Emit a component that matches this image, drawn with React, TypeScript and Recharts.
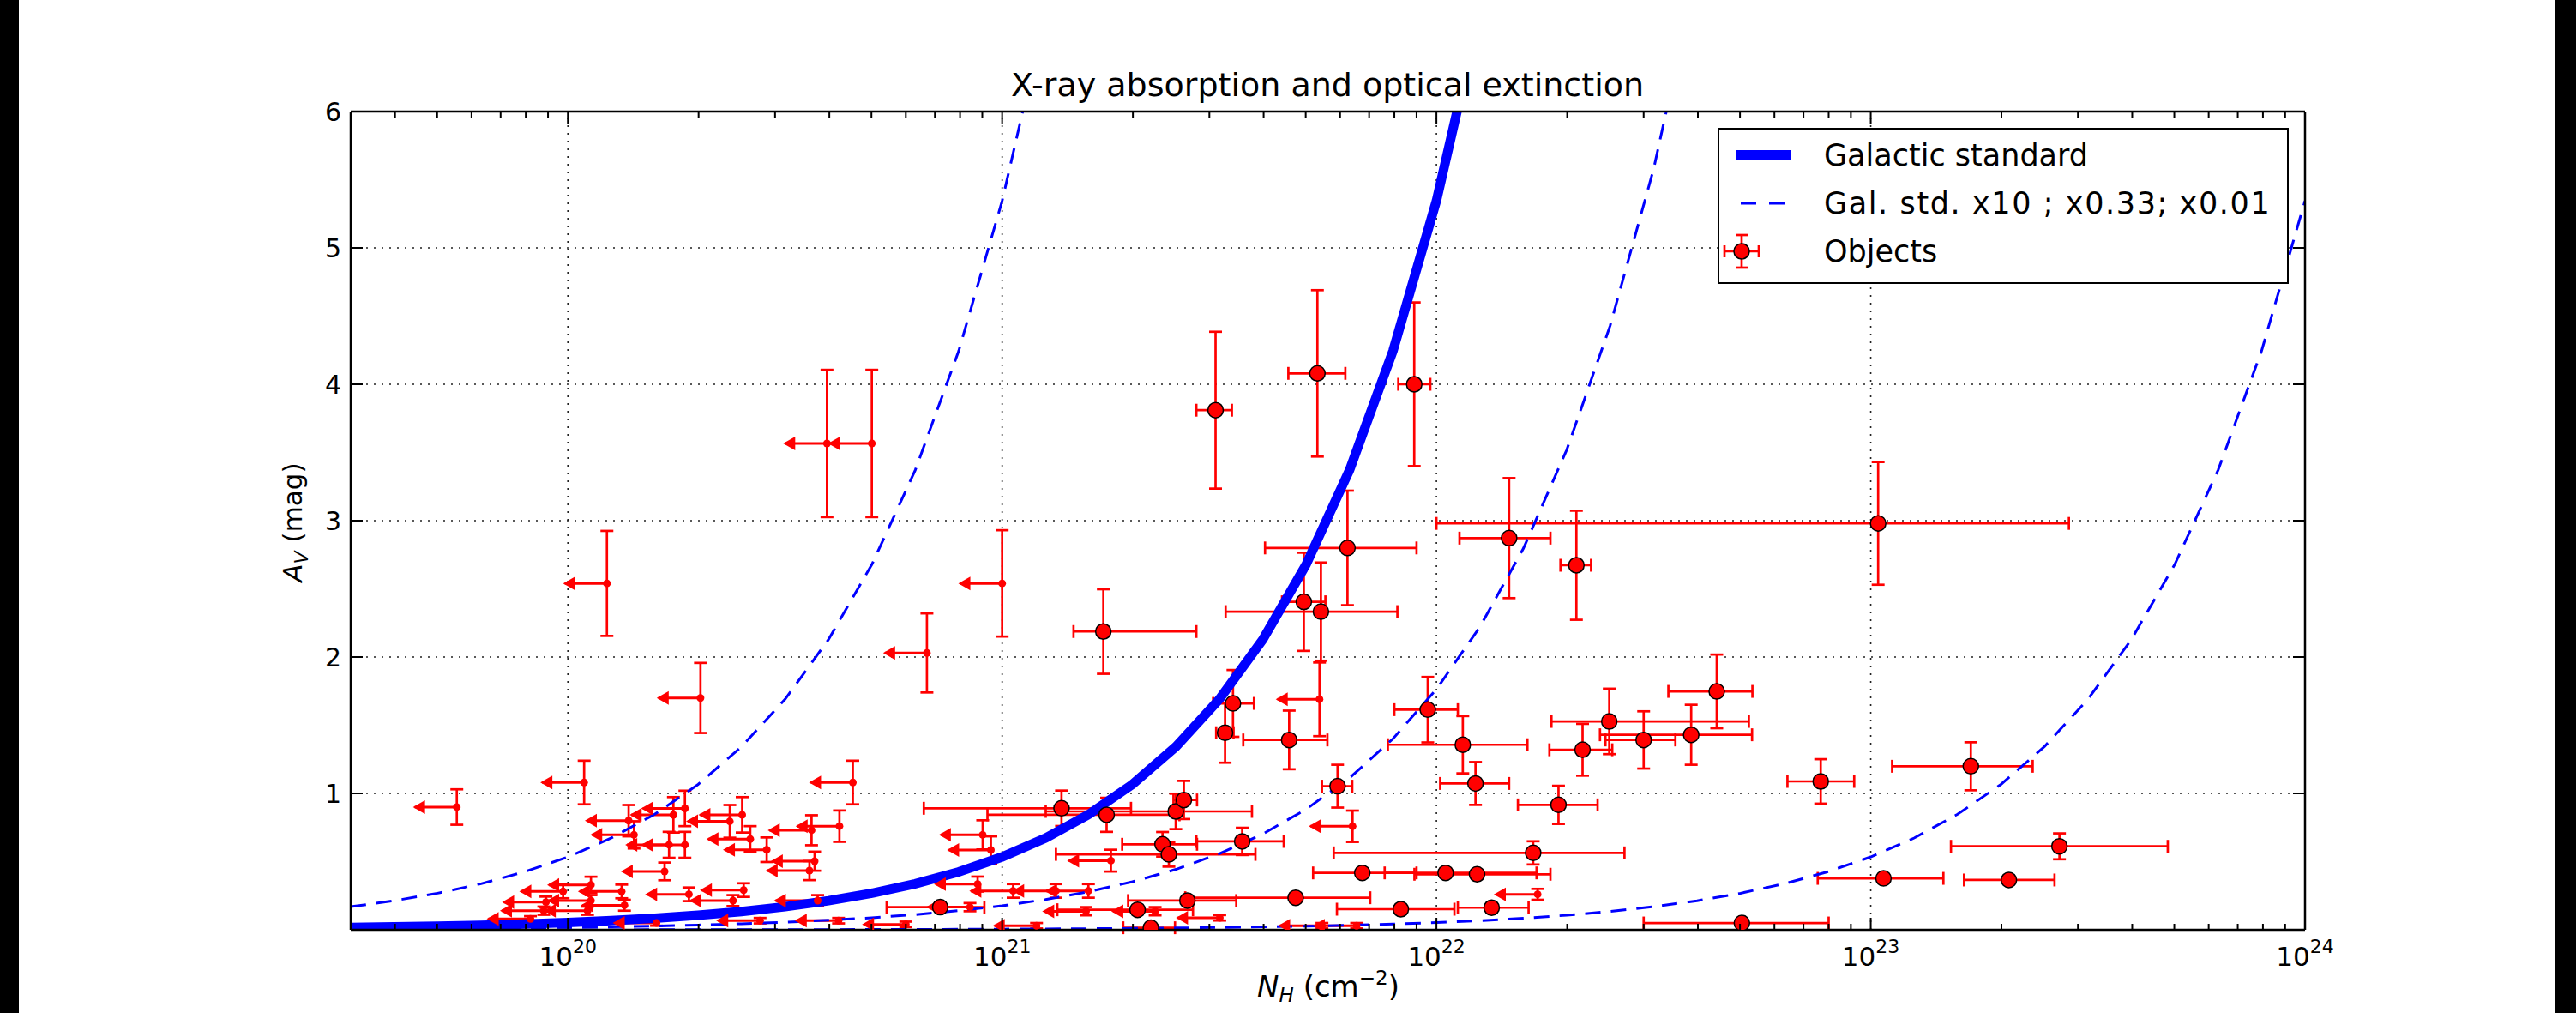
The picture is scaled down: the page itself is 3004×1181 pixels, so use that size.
import React from "react";
import {
  ComposedChart,
  XAxis,
  YAxis,
  Line,
  Scatter,
  ErrorBar,
  ReferenceLine,
} from "recharts";

const WIDTH = 3004;
const HEIGHT = 1181;
const FONT = '"DejaVu Sans", "Bitstream Vera Sans", sans-serif';
const RED = "#ff0000";
const BLUE = "#0000ff";

// model curves, sampled every 0.1 dex in N_H (cm^-2)
const nhGrid = [
  3.162e19, 3.981e19, 5.012e19, 6.31e19, 7.943e19, 1.0e20, 1.259e20, 1.585e20, 1.995e20, 2.512e20,
  3.162e20, 3.981e20, 5.012e20, 6.31e20, 7.943e20, 1.0e21, 1.259e21, 1.585e21, 1.995e21, 2.512e21,
  3.162e21, 3.981e21, 5.012e21, 6.31e21, 7.943e21, 1.0e22, 1.259e22, 1.585e22, 1.995e22, 2.512e22,
  3.162e22, 3.981e22, 5.012e22, 6.31e22, 7.943e22, 1.0e23, 1.259e23, 1.585e23, 1.995e23, 2.512e23,
  3.162e23, 3.981e23, 5.012e23, 6.31e23, 7.943e23, 1.0e24,
];
const avGalStd = [
  0.0169, 0.0213, 0.0268, 0.0337, 0.0425, 0.0534, 0.0673, 0.0847, 0.1066, 0.1343,
  0.169, 0.2128, 0.2679, 0.3372, 0.4245, 0.5345, 0.6729, 0.8471, 1.066, 1.343,
  1.69, 2.128, 2.679, 3.372, 4.245, 5.345, 6.729,
];
const avX10 = [
  0.169, 0.213, 0.268, 0.337, 0.425, 0.534, 0.673, 0.847, 1.066, 1.343,
  1.69, 2.128, 2.679, 3.372, 4.245, 5.345, 6.729,
];
const avX033 = [
  0.0056, 0.007, 0.0088, 0.0111, 0.014, 0.0176, 0.0222, 0.028, 0.0352, 0.0443,
  0.0558, 0.0702, 0.0884, 0.1113, 0.1401, 0.1764, 0.2221, 0.2795, 0.3519, 0.443,
  0.5577, 0.7022, 0.8841, 1.113, 1.401, 1.764, 2.221, 2.795, 3.519, 4.43,
  5.577, 7.022,
];
const avX001 = [
  0.000169, 0.000213, 0.000268, 0.000337, 0.000425, 0.000534, 0.000673, 0.000847, 0.00107, 0.00134,
  0.00169, 0.00213, 0.00268, 0.00337, 0.00425, 0.00534, 0.00673, 0.00847, 0.0107, 0.0134,
  0.0169, 0.0213, 0.0268, 0.0337, 0.0425, 0.0534, 0.0673, 0.0847, 0.1066, 0.1343,
  0.169, 0.2128, 0.2679, 0.3372, 0.4245, 0.5345, 0.6729, 0.8471, 1.066, 1.343,
  1.69, 2.128, 2.679, 3.372, 4.245, 5.345,
];

// detected objects: N_H with (lower, upper) error, A_V with symmetric error
const detNh = [
  3.1e21, 5.32e21, 8.89e21, 6.24e21, 4.95e21, 5.42e21, 1.71e21, 1.04e23, 1.47e22, 2.1e22,
  3.26e21, 3.4e21, 9.55e21, 4.58e21, 1.15e22, 1.23e22, 1.91e22, 2.5e22, 2.17e22, 3.0e22,
  3.86e22, 4.42e22, 7.67e22, 1.7e23, 2.72e23, 1.07e23, 2.08e23, 5.05e22, 1.37e21, 1.74e21,
  2.51e21, 2.62e21, 2.34e21, 2.42e21, 3.57e21, 5.92e21, 1.67e22, 6.75e21, 1.05e22, 1.24e22,
  4.74e21, 8.28e21, 1.34e22, 7.2e20, 2.67e21, 2.05e21, 2.2e21,
];
const detNhLo = [
  3.0e20, 7.6e20, 7.2e20, 2.21e21, 5.4e20, 2.15e21, 2.5e20, 9.4e22, 3.4e21, 1.7e21,
  1.5e20, 3.4e20, 1.55e21, 9.9e20, 3.77e21, 2.1e21, 3.7e21, 6.6e21, 3.5e21, 5.5e21,
  1.48e22, 1.0e22, 1.24e22, 5.8e22, 1.19e23, 3.15e22, 4.4e22, 2.05e22, 7.1e20, 8.15e20,
  1.25e21, 1.4e20, 4.5e20, 1.09e21, 7.7e20, 4.7e20, 1.09e22, 1.55e21, 2.9e21, 3.5e21,
  2.1e21, 2.38e21, 2.2e21, 1.78e20, 7.2e20, 7.1e20, 3.0e20,
];
const detNhHi = [
  2.8e20, 8.5e20, 7.9e20, 2.76e21, 6.0e20, 2.71e21, 1.09e21, 1.82e23, 3.6e21, 1.7e21,
  1.5e20, 4.0e20, 1.65e21, 1.03e21, 4.7e21, 2.4e21, 4.4e21, 2.74e22, 3.7e21, 5.5e21,
  1.47e22, 9.2e21, 1.49e22, 6.6e22, 2.11e23, 4.0e22, 5.7e22, 2.95e22, 6.1e20, 8.2e20,
  1.25e21, 1.9e20, 4.7e20, 1.41e21, 8.8e20, 4.8e20, 1.04e22, 2.25e21, 6.5e21, 5.9e21,
  2.3e21, 2.72e21, 2.9e21, 1.9e20, 7.9e20, 7.0e20, 3.0e20,
];
const detAv = [
  3.81, 4.08, 4.0, 2.8, 2.405, 2.333, 2.187, 2.98, 2.872, 2.673,
  1.445, 1.66, 1.614, 1.392, 1.357, 1.073, 0.916, 1.528, 1.32, 1.392,
  1.43, 1.748, 1.088, 1.199, 0.612, 0.377, 0.365, 0.05, 0.891, 0.843,
  0.868, 0.952, 0.627, 0.553, 0.648, 1.053, 0.564, 0.417, 0.417, 0.407,
  0.235, 0.151, 0.162, 0.166, 0.214, 0.147, 0.015,
];
const detAvErr = [
  0.575, 0.61, 0.6, 0.42, 0.36, 0.36, 0.31, 0.45, 0.44, 0.4,
  0.22, 0.245, 0.24, 0.215, 0.21, 0.157, 0.14, 0.24, 0.19, 0.21,
  0.22, 0.27, 0.163, 0.176, 0.095, 0.03, 0.03, 0.02, 0.13, 0.125,
  0.13, 0.14, 0.09, 0.09, 0.1, 0.157, 0.085, 0.03, 0.03, 0.03,
  0.03, 0.03, 0.03, 0.03, 0.03, 0.02, 0.01,
];

// upper limits on N_H (left arrows), A_V with symmetric error
const limNh = [
  3.95e20, 5.01e20, 1.23e20, 1.0e21, 6.71e20, 2.02e20, 5.55e19, 1.09e20, 4.53e20, 1.38e20,
  1.86e20, 1.75e20, 2.52e20, 2.36e20, 4.22e20, 3.64e20, 1.42e20, 1.71e20, 1.86e20, 2.63e20,
  2.87e20, 3.7e20, 3.6e20, 1.67e20, 1.13e20, 9.75e19, 1.33e20, 1.9e20, 2.54e20, 2.4e20,
  8.9e19, 1.13e20, 1.35e20, 8.8e19, 1.11e20, 3.76e20, 2.77e20, 4.2e20, 8.2e19, 9.02e20,
  9.42e20, 1.78e21, 8.78e20, 1.06e21, 1.33e21, 1.58e21, 8.43e20, 1.56e21, 2.25e21, 3.17e21,
  5.38e21, 6.41e21, 1.71e22, 5.45e21, 6.55e21, 1.2e21, 1.6e20, 6.0e20,
];
const limAv = [
  3.566, 3.566, 2.54, 2.54, 2.03, 1.7, 0.9, 1.08, 1.08, 0.8,
  0.89, 0.843, 0.843, 0.795, 0.76, 0.73, 0.696, 0.623, 0.623, 0.665,
  0.587, 0.503, 0.434, 0.428, 0.329, 0.281, 0.281, 0.26, 0.291, 0.214,
  0.203, 0.214, 0.18, 0.14, 0.14, 0.214, 0.067, 0.067, 0.08, 0.696,
  0.585, 0.507, 0.335, 0.285, 0.285, 0.285, 0.166, 0.136, 0.136, 0.088,
  1.69, 0.759, 0.26, 0.03, 0.03, 0.03, 0.05, 0.04,
];
const limAvErr = [
  0.54, 0.54, 0.385, 0.39, 0.29, 0.257, 0.13, 0.16, 0.16, 0.115,
  0.13, 0.13, 0.13, 0.12, 0.115, 0.11, 0.1, 0.095, 0.095, 0.095,
  0.09, 0.07, 0.07, 0.065, 0.06, 0.05, 0.05, 0.05, 0.05, 0.04,
  0.04, 0.04, 0.04, 0.03, 0.03, 0.04, 0.02, 0.02, 0.02, 0.107,
  0.1, 0.08, 0.055, 0.05, 0.05, 0.05, 0.03, 0.03, 0.03, 0.02,
  0.27, 0.115, 0.04, 0.02, 0.02, 0.02, 0.02, 0.02,
];

const X_MIN = Math.pow(10, 19.5);
const X_MAX = 1e24;
const ARROW_FRAC = 0.2; // limit arrows span 20% of N_H

const xMajorTicks = [1e20, 1e21, 1e22, 1e23, 1e24];
const xMinorTicks = [1e19, 1e20, 1e21, 1e22, 1e23]
  .flatMap((d) => [2, 3, 4, 5, 6, 7, 8, 9].map((m) => m * d))
  .filter((v) => v > X_MIN);
const xTicks = [...xMinorTicks, ...xMajorTicks].sort((a, b) => a - b);
const yTicks = [0, 1, 2, 3, 4, 5, 6];
const xGrid = [1e20, 1e21, 1e22, 1e23];
const yGrid = [1, 2, 3, 4, 5];

const curve = (av: number[]) => av.map((v, i) => ({ nh: nhGrid[i], av: v }));

const detData = detNh.map((nh, i) => ({
  nh,
  av: detAv[i],
  nhErr: [detNhLo[i], detNhHi[i]],
  avErr: detAvErr[i],
}));
const limData = limNh.map((nh, i) => ({
  nh,
  av: limAv[i],
  shaft: [nh * ARROW_FRAC, 0],
  avErr: limAvErr[i],
}));
const arrowData = limNh.map((nh, i) => ({ nh: nh * (1 - ARROW_FRAC), av: limAv[i] }));

const isMajor = (v: number) => Math.abs(Math.log10(v) - Math.round(Math.log10(v))) < 1e-6;

function BottomTick({ x, y, payload }: any) {
  const v = payload.value;
  const major = isMajor(v);
  return (
    <g>
      <line x1={x} x2={x} y1={y} y2={y - (major ? 14 : 7)} stroke="#000" strokeWidth={2} />
      {major && (
        <text x={x} y={y + 42} textAnchor="middle" fontFamily={FONT} fontSize={31} fill="#000">
          10
          <tspan dy={-15} fontSize={22}>
            {Math.round(Math.log10(v))}
          </tspan>
        </text>
      )}
    </g>
  );
}

function TopTick({ x, y, payload }: any) {
  const major = isMajor(payload.value);
  return <line x1={x} x2={x} y1={y} y2={y + (major ? 14 : 7)} stroke="#000" strokeWidth={2} />;
}

function LeftTick({ x, y, payload }: any) {
  return (
    <g>
      <line x1={x} x2={x + 14} y1={y} y2={y} stroke="#000" strokeWidth={2} />
      {payload.value > 0 && (
        <text x={x - 11} y={y} dy="0.36em" textAnchor="end" fontFamily={FONT} fontSize={30} fill="#000">
          {payload.value}
        </text>
      )}
    </g>
  );
}

function RightTick({ x, y }: any) {
  return <line x1={x} x2={x - 14} y1={y} y2={y} stroke="#000" strokeWidth={2} />;
}

const DetDot = ({ cx, cy }: any) => (
  <circle cx={cx} cy={cy} r={9} fill={RED} stroke="#000" strokeWidth={1.5} />
);
const LimDot = ({ cx, cy }: any) => <circle cx={cx} cy={cy} r={4.5} fill={RED} />;
const ArrowHead = ({ cx, cy }: any) => (
  <polygon points={`${cx - 2},${cy} ${cx + 12},${cy - 8} ${cx + 12},${cy + 8}`} fill={RED} />
);

const axisLine = { stroke: "#000", strokeWidth: 2.5 };

export default function App() {
  return (
    <div style={{ position: "absolute", left: 0, top: 0, width: WIDTH, height: HEIGHT, background: "#fff" }}>
      <ComposedChart width={WIDTH} height={HEIGHT} margin={{ top: 120, right: 306, bottom: 37, left: 349 }}>
        <XAxis
          xAxisId="b"
          dataKey="nh"
          type="number"
          scale="log"
          domain={[X_MIN, X_MAX]}
          allowDataOverflow
          ticks={xTicks}
          interval={0}
          height={60}
          tickSize={0}
          tickMargin={0}
          tickLine={false}
          axisLine={axisLine}
          tick={(p: any) => <BottomTick {...p} />}
        />
        <XAxis
          xAxisId="t"
          orientation="top"
          dataKey="nh"
          type="number"
          scale="log"
          domain={[X_MIN, X_MAX]}
          allowDataOverflow
          ticks={xTicks}
          interval={0}
          height={10}
          tickSize={0}
          tickMargin={0}
          tickLine={false}
          axisLine={axisLine}
          tick={(p: any) => <TopTick {...p} />}
        />
        <YAxis
          yAxisId="l"
          dataKey="av"
          type="number"
          domain={[0, 6]}
          allowDataOverflow
          ticks={yTicks}
          interval={0}
          width={60}
          tickSize={0}
          tickMargin={0}
          tickLine={false}
          axisLine={axisLine}
          tick={(p: any) => <LeftTick {...p} />}
        />
        <YAxis
          yAxisId="r"
          orientation="right"
          type="number"
          domain={[0, 6]}
          allowDataOverflow
          ticks={yTicks}
          interval={0}
          width={10}
          tickSize={0}
          tickMargin={0}
          tickLine={false}
          axisLine={axisLine}
          tick={(p: any) => <RightTick {...p} />}
        />

        {xGrid.map((v) => (
          <ReferenceLine key={`gx${v}`} x={v} xAxisId="b" yAxisId="l" stroke="#222" strokeWidth={1.6} strokeDasharray="2 7" />
        ))}
        {yGrid.map((v) => (
          <ReferenceLine key={`gy${v}`} y={v} xAxisId="b" yAxisId="l" stroke="#222" strokeWidth={1.6} strokeDasharray="2 7" />
        ))}

        <Scatter data={limData} xAxisId="b" yAxisId="l" shape={LimDot} isAnimationActive={false}>
          <ErrorBar dataKey="shaft" direction="x" width={0} stroke={RED} strokeWidth={3} />
          <ErrorBar dataKey="avErr" direction="y" width={7.5} stroke={RED} strokeWidth={2.7} />
        </Scatter>
        <Scatter data={arrowData} xAxisId="b" yAxisId="l" shape={ArrowHead} isAnimationActive={false} />
        <Scatter data={detData} xAxisId="b" yAxisId="l" shape={DetDot} isAnimationActive={false}>
          <ErrorBar dataKey="nhErr" direction="x" width={7.5} stroke={RED} strokeWidth={2.7} />
          <ErrorBar dataKey="avErr" direction="y" width={7.5} stroke={RED} strokeWidth={2.7} />
        </Scatter>

        <Line data={curve(avGalStd)} dataKey="av" xAxisId="b" yAxisId="l" type="linear" stroke={BLUE} strokeWidth={11} dot={false} activeDot={false} isAnimationActive={false} />
        <Line data={curve(avX10)} dataKey="av" xAxisId="b" yAxisId="l" type="linear" stroke={BLUE} strokeWidth={3} strokeDasharray="18 12" dot={false} activeDot={false} isAnimationActive={false} />
        <Line data={curve(avX033)} dataKey="av" xAxisId="b" yAxisId="l" type="linear" stroke={BLUE} strokeWidth={3} strokeDasharray="18 12" dot={false} activeDot={false} isAnimationActive={false} />
        <Line data={curve(avX001)} dataKey="av" xAxisId="b" yAxisId="l" type="linear" stroke={BLUE} strokeWidth={3} strokeDasharray="18 12" dot={false} activeDot={false} isAnimationActive={false} />
      </ComposedChart>

      <svg width={WIDTH} height={HEIGHT} style={{ position: "absolute", left: 0, top: 0, pointerEvents: "none" }}>
        <rect x={0} y={0} width={22} height={HEIGHT} fill="#000" />
        <rect x={2980} y={0} width={24} height={HEIGHT} fill="#000" />

        <text x={1548} y={112} textAnchor="middle" fontFamily={FONT} fontSize={38} fill="#000">
          X-ray absorption and optical extinction
        </text>

        <text transform="translate(352, 609) rotate(-90)" textAnchor="middle" fontFamily={FONT} fontSize={31} fill="#000">
          <tspan fontStyle="italic">A</tspan>
          <tspan fontStyle="italic" fontSize={22} dy={7}>V</tspan>
          <tspan dy={-7}> (mag)</tspan>
        </text>

        <text x={1549} y={1162} textAnchor="middle" fontFamily={FONT} fontSize={34} fill="#000">
          <tspan fontStyle="italic">N</tspan>
          <tspan fontStyle="italic" fontSize={23} dy={6}>H</tspan>
          <tspan dy={-6}> (cm</tspan>
          <tspan fontSize={23} dy={-14}>−2</tspan>
          <tspan dy={14}>)</tspan>
        </text>

        <g>
          <rect x={2004} y={150} width={664} height={180} fill="#fff" stroke="#000" strokeWidth={2} />
          <line x1={2024} x2={2089} y1={181} y2={181} stroke={BLUE} strokeWidth={12} />
          <text x={2127} y={193} fontFamily={FONT} fontSize={35} fill="#000">Galactic standard</text>
          <line x1={2030} x2={2082} y1={237} y2={237} stroke={BLUE} strokeWidth={3} strokeDasharray="18 15" />
          <text x={2127} y={249} fontFamily={FONT} fontSize={35} letterSpacing={1.6} fill="#000">
            Gal. std. x10 ; x0.33; x0.01
          </text>
          <line x1={2011} x2={2051} y1={293} y2={293} stroke={RED} strokeWidth={2.7} />
          <line x1={2031} x2={2031} y1={274} y2={312} stroke={RED} strokeWidth={2.7} />
          <line x1={2011} x2={2011} y1={286} y2={300} stroke={RED} strokeWidth={2.7} />
          <line x1={2051} x2={2051} y1={286} y2={300} stroke={RED} strokeWidth={2.7} />
          <line x1={2024} x2={2038} y1={274} y2={274} stroke={RED} strokeWidth={2.7} />
          <line x1={2024} x2={2038} y1={312} y2={312} stroke={RED} strokeWidth={2.7} />
          <circle cx={2031} cy={293} r={9} fill={RED} stroke="#000" strokeWidth={1.5} />
          <text x={2127} y={305} fontFamily={FONT} fontSize={35} fill="#000">Objects</text>
        </g>
      </svg>
    </div>
  );
}
